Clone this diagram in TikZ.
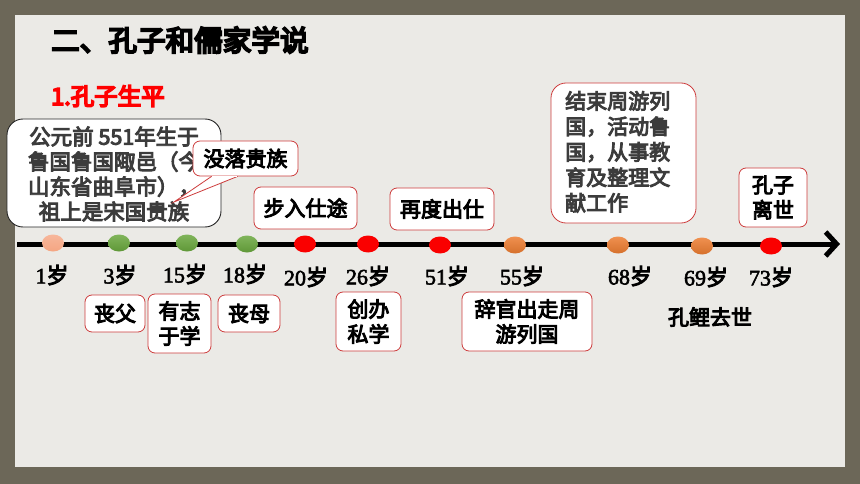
\documentclass[tikz,border=0pt]{standalone}
\usepackage{fontspec}
\setmainfont{Liberation Serif}
\newfontfamily\cjk{Noto Sans CJK SC}
\newfontfamily\cjkb{Noto Sans CJK SC}[FakeBold=4.5]
\newfontfamily\cjkt{Noto Sans CJK SC}[FakeBold=7]
\newfontfamily\numf{Liberation Serif}[FakeBold=2.5]
\usetikzlibrary{shapes.geometric,arrows.meta,calc}
\definecolor{framec}{RGB}{108,103,88}
\definecolor{panelc}{RGB}{235,234,230}
\definecolor{boxred}{RGB}{205,60,60}
\definecolor{txtgray}{RGB}{60,60,60}
\definecolor{dotpink}{RGB}{245,165,130}
\definecolor{dotgreen}{RGB}{106,168,62}
\definecolor{dotred}{RGB}{250,0,0}
\definecolor{dotorange}{RGB}{237,125,49}
\newcommand{\age}[1]{{\numf #1}{\cjkb 岁}}
\tikzset{
  rbox/.style={draw=boxred, line width=0.8pt, fill=white, rounded corners=7pt,
    align=center, inner sep=0pt, font=\cjkb\fontsize{21}{25}\selectfont},
  dot/.style={ellipse, minimum width=22pt, minimum height=17pt, inner sep=0pt},
  agelbl/.style={font=\fontsize{22}{24}\selectfont, inner sep=0pt},
  tline/.style={line width=5pt, -{Straight Barb[length=11pt,width=24pt]}},
}
\begin{document}
\begin{tikzpicture}[x=1pt,y=-1pt]
\useasboundingbox (0,0) rectangle (860,484);
\fill[framec] (0,0) rectangle (860,484);
\fill[panelc] (15,15) rectangle (845,467);

% titles
\node[anchor=west, inner sep=0pt, font=\cjkt\fontsize{28.6}{30}\selectfont] (title) at (51,40) {二、孔子和儒家学说};
\node[anchor=west, inner sep=0pt, text=red, font=\cjkt\fontsize{23.5}{25}\selectfont] (sub) at (51,96) {1.孔子生平};

% timeline
\coordinate (tl0) at (17,244);
\coordinate (tl1) at (840,244);
\draw[tline] (tl0) -- (tl1);

\node[dot, top color=dotpink!80, bottom color=dotpink] (d1) at (53,243) {};
\node[dot, top color=dotgreen!85!white, bottom color=dotgreen!90!black] (d3) at (119,243) {};
\node[dot, top color=dotgreen!85!white, bottom color=dotgreen!90!black] (d15) at (187,243) {};
\node[dot, top color=dotgreen!85!white, bottom color=dotgreen!90!black] (d18) at (247,244) {};
\node[dot, fill=dotred] (d20) at (305,244) {};
\node[dot, fill=dotred] (d26) at (368,244) {};
\node[dot, fill=dotred] (d51) at (440,245) {};
\node[dot, top color=dotorange!85!white, bottom color=dotorange!90!black] (d55) at (515,245) {};
\node[dot, top color=dotorange!85!white, bottom color=dotorange!90!black] (d68) at (618,245) {};
\node[dot, top color=dotorange!85!white, bottom color=dotorange!90!black] (d69) at (702,246) {};
\node[dot, fill=dotred] (d73) at (771,246) {};

% age labels
\node[agelbl] (a1) at (52,275) {\age{1}};
\node[agelbl] (a3) at (120,275) {\age{3}};
\node[agelbl] (a15) at (185,274) {\age{15}};
\node[agelbl] (a18) at (245,274) {\age{18}};
\node[agelbl] (a20) at (306,277) {\age{20}};
\node[agelbl] (a26) at (368,276) {\age{26}};
\node[agelbl] (a51) at (447,276) {\age{51}};
\node[agelbl] (a55) at (522,276) {\age{55}};
\node[agelbl] (a68) at (630,276) {\age{68}};
\node[agelbl] (a69) at (706,277) {\age{69}};
\node[agelbl] (a73) at (771,277) {\age{73}};

% callout
\node[draw=black!85, line width=0.9pt, fill=white, rounded corners=16pt,
  minimum width=214pt, minimum height=108pt, inner sep=0pt] (birth) at (114,173) {};
\node[align=center, inner sep=0pt, text=txtgray, font=\cjkb\fontsize{21.5}{25}\selectfont] (birthtxt) at (114,174)
  {公元前 551年生于\\鲁国鲁国陬邑（今\\山东省曲阜市），\\祖上是宋国贵族};

% 没落贵族 with pointer
\node[rbox, minimum width=105pt, minimum height=35pt] (mlgz) at (245.5,158.5) {没落贵族};
\coordinate (ptA) at ($(mlgz.south west)+(19,0)$);
\coordinate (ptB) at ($(mlgz.south west)+(45,0)$);
\coordinate (tip) at (174,202);
\fill[white] (ptA) -- (tip) -- (ptB) -- cycle;
\draw[boxred, line width=0.8pt] (ptA) -- (tip) -- (ptB);
\fill[white] ($(ptA)+(0.5,-0.8)$) rectangle ($(ptB)+(-0.5,0.6)$);

% upper boxes
\node[rbox, minimum width=103pt, minimum height=42pt] (brst) at (305.5,208) {步入仕途};
\node[rbox, minimum width=104pt, minimum height=42pt] (zdcs) at (442,209) {再度出仕};
\node[rbox, rounded corners=15pt, minimum width=145pt, minimum height=140pt, text=txtgray] (jszy) at (623.5,153) {};
\node[anchor=north west, align=left, inner sep=0pt, text=txtgray, font=\cjkb\fontsize{21}{25.5}\selectfont] (jszytxt) at (565,91)
  {结束周游列\\国，活动鲁\\国，从事教\\育及整理文\\献工作};
\node[rbox, minimum width=68pt, minimum height=59pt] (kzls) at (773,197.5) {孔子\\离世};

% lower boxes
\node[rbox, minimum width=60pt, minimum height=37pt] (sf) at (115,313.5) {丧父};
\node[rbox, minimum width=63pt, minimum height=59pt] (yzyx) at (179.5,323.5) {有志\\于学};
\node[rbox, minimum width=62pt, minimum height=37pt] (sm) at (249,313.5) {丧母};
\node[rbox, minimum width=65pt, minimum height=59pt] (cbsx) at (368.5,321.5) {创办\\私学};
\node[rbox, minimum width=130pt, minimum height=59pt] (cgcz) at (527,321.5) {辞官出走周\\游列国};
\node[inner sep=0pt, font=\cjkb\fontsize{21}{25}\selectfont] (klqs) at (710,317) {孔鲤去世};
\end{tikzpicture}
\end{document}
